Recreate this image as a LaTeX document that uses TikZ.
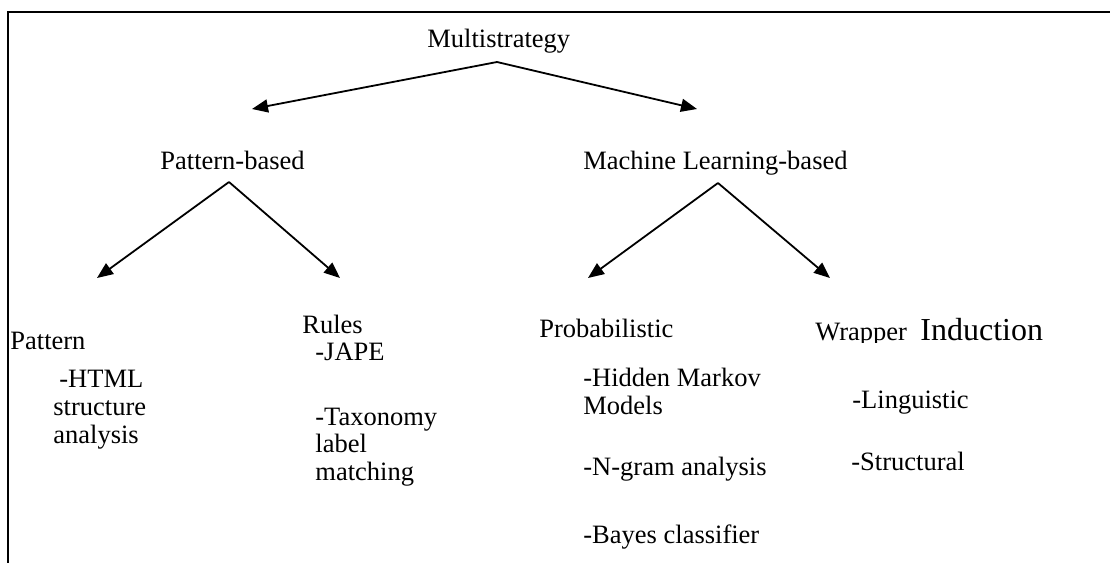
\documentclass[tikz,border=0pt]{standalone}
\usepackage{fontspec}
\setmainfont{Liberation Serif}
\usetikzlibrary{arrows.meta}

\begin{document}
\begin{tikzpicture}[x=0.5pt,y=-0.5pt,
lab/.style={font=\fontsize{13.25}{14}\selectfont,anchor=base west,inner sep=0},
big/.style={font=\fontsize{16}{17}\selectfont,anchor=base west,inner sep=0},
frame/.style={line width=1.1pt},
link/.style={line width=0.9pt,-{Triangle[length=8pt,width=6.5pt]}}]
	\useasboundingbox (0,0) rectangle (1110,563);
	\draw[frame] (8,563) -- (8,12) -- (1110,12);

	% top and second level
	\node[lab] (ms) at (427,47) {Multistrategy};
	\node[lab] (pb) at (160,169) {Pattern-based};
	\node[lab] (ml) at (583,169) {Machine Learning-based};

	% third level
	\node[lab] (pat) at (10,349) {Pattern};
	\node[lab] (rul) at (302,333) {Rules};
	\node[lab] (prob) at (539,337) {Probabilistic};
	\begin{scope}
		% descenders cut off as in the source
		\clip (800,300) rectangle (912,342);
		\node[lab] (wrap) at (815,340) {Wrapper};
	\end{scope}
	\node[big] (ind) at (920,340) {Induction};

	% pattern
	\node[lab] (html1) at (59,387) {-HTML};
	\node[lab] (html2) at (53,415) {structure};
	\node[lab] (html3) at (53,443) {analysis};
	% rules
	\node[lab] (jape) at (315,360) {-JAPE};
	\node[lab] (tax1) at (315,425) {-Taxonomy};
	\node[lab] (tax2) at (315,452) {label};
	\node[lab] (tax3) at (315,480) {matching};
	% probabilistic
	\node[lab] (hmm1) at (583,386) {-Hidden Markov};
	\node[lab] (hmm2) at (583,414) {Models};
	\node[lab] (ngram) at (583,475) {-N-gram analysis};
	\node[lab] (bayes) at (583,543) {-Bayes classifier};
	% wrapper
	\node[lab] (ling) at (852,408) {-Linguistic};
	\node[lab] (struc) at (851,470) {-Structural};

	% arrow ends
	\coordinate (ms-out) at (497,62);
	\coordinate (pb-in) at (252,109);
	\coordinate (ml-in) at (697,109);
	\coordinate (pb-out) at (229,182);
	\coordinate (pat-in) at (97,278);
	\coordinate (rul-in) at (340,278);
	\coordinate (ml-out) at (718,183);
	\coordinate (prob-in) at (588,278);
	\coordinate (wrap-in) at (830,278);

	\draw[link] (ms-out) -- (pb-in);
	\draw[link] (ms-out) -- (ml-in);
	\draw[link] (pb-out) -- (pat-in);
	\draw[link] (pb-out) -- (rul-in);
	\draw[link] (ml-out) -- (prob-in);
	\draw[link] (ml-out) -- (wrap-in);
\end{tikzpicture}
\end{document}
